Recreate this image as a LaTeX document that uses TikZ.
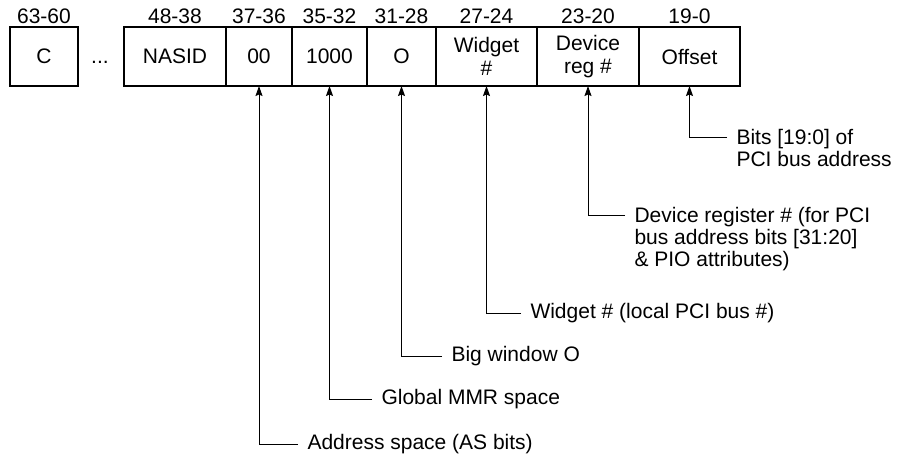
\documentclass[tikz,border=0pt]{standalone}
\usepackage{fontspec}
\setmainfont{Liberation Sans}
\usetikzlibrary{positioning}
\usetikzlibrary{arrows.meta}

\begin{document}
\begin{tikzpicture}[x=1pt,y=-1pt,line width=1pt,
  field/.style={draw, line width=1.2pt, minimum height=59pt, inner sep=0pt, outer sep=0pt, align=center, font=\fontsize{21}{23}\selectfont},
  bits/.style={anchor=base, inner sep=0pt, font=\fontsize{21}{23}\selectfont},
  note/.style={align=left, inner xsep=9pt, inner ysep=0pt, font=\fontsize{21}{22}\selectfont},
  pointer/.style={-{Stealth[length=10pt,width=7pt,inset=1.5pt]}}]
  \useasboundingbox (0,0) rectangle (900,459);
  % address fields
  \node[field, minimum width=68pt, anchor=west] (fC) at (10,56.5) {C};
  \node[bits] (dots) at (100,63) {...};
  \node[field, minimum width=102pt, anchor=west] (fNasid) at (124,56.5) {NASID};
  \node[field, minimum width=66pt, right=0pt of fNasid] (fAs) {00};
  \node[field, minimum width=75pt, right=0pt of fAs] (fMmr) {1000};
  \node[field, minimum width=69pt, right=0pt of fMmr] (fWin) {O};
  \node[field, minimum width=101pt, right=0pt of fWin] (fWid) {Widget\\\#};
  \node[field, minimum width=102pt, right=0pt of fWid] (fDev) {Device\\reg \#};
  \node[field, minimum width=101pt, right=0pt of fDev] (fOff) {Offset};
  % bit ranges
  \node[bits, anchor=south, above=3pt of fC] (bC) {63-60};
  \node[bits, anchor=south, above=3pt of fNasid] (bNasid) {48-38};
  \node[bits, anchor=south, above=3pt of fAs] (bAs) {37-36};
  \node[bits, anchor=south, above=3pt of fMmr] (bMmr) {35-32};
  \node[bits, anchor=south, above=3pt of fWin] (bWin) {31-28};
  \node[bits, anchor=south, above=3pt of fWid] (bWid) {27-24};
  \node[bits, anchor=south, above=3pt of fDev] (bDev) {23-20};
  \node[bits, anchor=south, above=3pt of fOff] (bOff) {19-0};
  % descriptions
  \node[note, anchor=west] (nAs) at (298,444) {Address space (AS bits)};
  \node[note, anchor=west] (nMmr) at (372,399) {Global MMR space};
  \node[note, anchor=west] (nWin) at (442,356) {Big window O};
  \node[note, anchor=west] (nWid) at (521,313) {Widget \# (local PCI bus \#)};
  \node[note, anchor=north west] (nDev) at (625,207) {Device register \# (for PCI\\bus address bits [31:20]\\\& PIO attributes)};
  \node[note, anchor=north west] (nOff) at (727,129) {Bits [19:0] of\\PCI bus address};
  % pointers
  \draw[pointer] (nAs.west) -| (fAs.south);
  \draw[pointer] (nMmr.west) -| (fMmr.south);
  \draw[pointer] (nWin.west) -| (fWin.south);
  \draw[pointer] (nWid.west) -| (fWid.south);
  \draw[pointer] ([yshift=-8pt]nDev.north west) -| (fDev.south);
  \draw[pointer] ([yshift=-8pt]nOff.north west) -| (fOff.south);
\end{tikzpicture}
\end{document}
